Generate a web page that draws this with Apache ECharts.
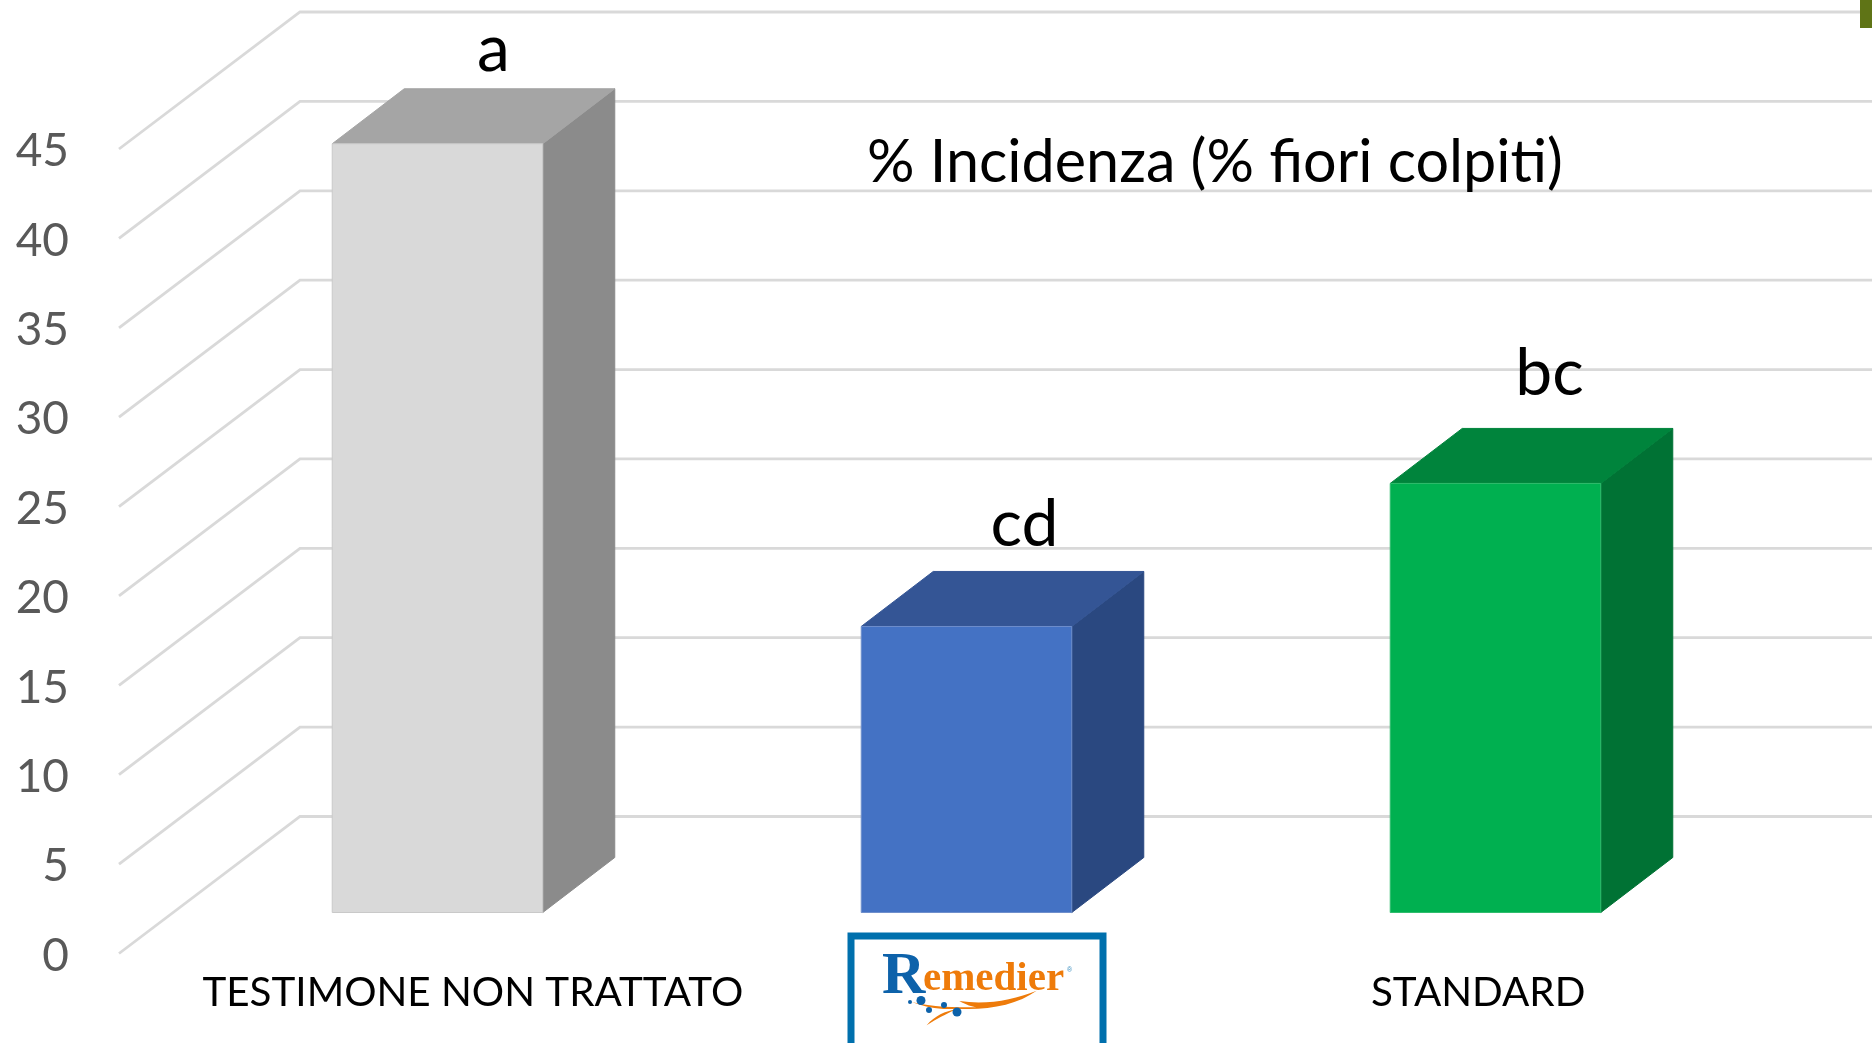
<!DOCTYPE html>
<html><head><meta charset="utf-8">
<script src="https://cdn.jsdelivr.net/npm/echarts@6/dist/echarts.min.js"></script>
<style>html,body{margin:0;padding:0;background:#fff}#c{width:1872px;height:1043px}</style>
</head><body><div id="c"></div>
<script>
const categories = ['TESTIMONE NON TRATTATO', 'Remedier', 'STANDARD'];
const incidence = [43, 16, 24];
const letters = ['a', 'cd', 'bc'];
const yTicks = [0, 5, 10, 15, 20, 25, 30, 35, 40, 45];
const titleText = '% Incidenza (% fiori colpiti)';

// appearance
const faces = [
  {front:'#d9d9d9', top:'#a5a5a5', side:'#8b8b8b', edge:'#c9c9c9'},
  {front:'#4472c4', top:'#345595', side:'#2a4880', edge:'#6f8fcc'},
  {front:'#00b050', top:'#00843c', side:'#007234', edge:'#30bd6e'}
];
const letterNudge = [[-16,-39],[-14,-47],[-18,-55]];
const WALL = {dx:181, dy:-137};
const FLOOR = {dx:54, dy:-41};
const BAR = {dx:72, dy:-55, ratio:0.398};
const FONT = 'Lato';
const GRID = {left:119, top:149, bottom:89.5};

echarts.graphic.registerShape('swoosh', echarts.graphic.extendPath(
  'M275 306 C320 322 360 330 410 326 C500 332 590 315 650 272 C580 300 500 315 418 303 C440 315 455 320 470 322 C400 322 340 322 275 306 Z M320 376 C345 345 375 335 410 326 C375 345 350 355 320 376 Z', {}));

function renderWall(params, api){
  const p = api.coord([0, api.value(1)]);
  const x0 = params.coordSys.x;
  return {type:'polyline', silent:true,
    shape:{points:[[x0,p[1]],[x0+WALL.dx,p[1]+WALL.dy],[1872,p[1]+WALL.dy]]},
    style:{stroke:'#d9d9d9', lineWidth:2.8, fill:null}};
}
function renderBar(params, api){
  const i = api.value(0);
  const f = faces[i];
  const w = api.size([1,0])[0]*BAR.ratio;
  const c = api.coord([i, api.value(1)]);
  const b = api.coord([i, 0]);
  const l = c[0]-w/2+FLOOR.dx, r = l+w, t = c[1]+FLOOR.dy, g = b[1]+FLOOR.dy;
  const d = BAR;
  const poly = (pts,fill,stroke)=>({type:'polygon',shape:{points:pts},
    style:{fill:fill,stroke:stroke||fill,lineWidth:1}});
  return {type:'group',children:[
    poly([[r,t],[r+d.dx,t+d.dy],[r+d.dx,g+d.dy],[r,g]],f.side),
    poly([[l,t],[l+d.dx,t+d.dy],[r+d.dx,t+d.dy],[r,t]],f.top),
    poly([[l,t],[r,t],[r,g],[l,g]],f.front,f.edge),
    {type:'text',style:{text:letters[i],x:(l+r)/2+d.dx+letterNudge[i][0],y:t+d.dy+letterNudge[i][1],
      align:'center',verticalAlign:'middle',fontFamily:FONT,fontSize:66,fill:'#000'}}
  ]};
}

const chart = echarts.init(document.getElementById('c'));
chart.setOption({
  animation:false,
  backgroundColor:'#fff',
  title:{text:titleText,left:1210,top:128,textAlign:'center',
    textStyle:{fontFamily:FONT,fontSize:59.3,fontWeight:'normal',color:'#000'}},
  grid:[
    {left:GRID.left,top:GRID.top,bottom:GRID.bottom,width:1587},
    {left:221.5,top:GRID.top,bottom:GRID.bottom,width:1508}
  ],
  xAxis:[
    {type:'category',gridIndex:0,data:categories,axisLine:{show:false},axisTick:{show:false},axisLabel:{show:false}},
    {type:'category',gridIndex:1,data:categories,axisLine:{show:false},axisTick:{show:false},
     axisLabel:{interval:0,margin:19,fontFamily:FONT,fontSize:40.4,color:'#000',
       formatter:v=>v==='Remedier'?'':v}}
  ],
  yAxis:[
    {type:'value',gridIndex:0,min:0,max:45,interval:5,splitLine:{show:false},axisLine:{show:false},axisTick:{show:false},
     axisLabel:{margin:50,verticalAlign:'top',lineHeight:5,fontFamily:FONT,fontSize:46,color:'#595959'}},
    {type:'value',gridIndex:1,min:0,max:45,interval:5,show:false}
  ],
  series:[
    {type:'custom',xAxisIndex:0,yAxisIndex:0,silent:true,z:1,renderItem:renderWall,
     data:yTicks.map(v=>[0,v])},
    {type:'custom',xAxisIndex:0,yAxisIndex:0,silent:true,z:2,renderItem:renderBar,
     data:incidence.map((v,i)=>[i,v])}
  ],
  graphic:[
    {type:'rect',z:10,shape:{x:1860,y:0,width:12,height:28},style:{fill:'#5f7416'}},
    {type:'rect',z:10,shape:{x:851,y:936,width:252,height:112},style:{fill:'#fff',stroke:'#0070ad',lineWidth:7}},
    {type:'swoosh',z:11,x:820,y:900,scaleX:1/3,scaleY:1/3,style:{fill:'#ee7b0a'}},
    {type:'circle',z:12,shape:{cx:910,cy:1002,r:2},style:{fill:'#0d62aa'}},
    {type:'circle',z:12,shape:{cx:921,cy:1000.5,r:4.5},style:{fill:'#0d62aa'}},
    {type:'circle',z:12,shape:{cx:929,cy:1010,r:3},style:{fill:'#0d62aa'}},
    {type:'circle',z:12,shape:{cx:944,cy:1005,r:3},style:{fill:'#0d62aa'}},
    {type:'circle',z:12,shape:{cx:957,cy:1012,r:4.5},style:{fill:'#0d62aa'}},
    {type:'text',z:12,style:{text:'R',x:882,y:1007,verticalAlign:'bottom',fontFamily:'Liberation Serif',fontWeight:'bold',fontSize:60,fill:'#0d62aa'}},
    {type:'text',z:12,style:{text:'emedier',x:923,y:1000,verticalAlign:'bottom',fontFamily:'Liberation Serif',fontWeight:'bold',fontSize:41,fill:'#ee7b0a'}},
    {type:'text',z:12,style:{text:'®',x:1067,y:970,verticalAlign:'middle',fontFamily:'Liberation Sans',fontSize:7,fill:'#3c8fc0'}}
  ]
});
</script></body></html>
